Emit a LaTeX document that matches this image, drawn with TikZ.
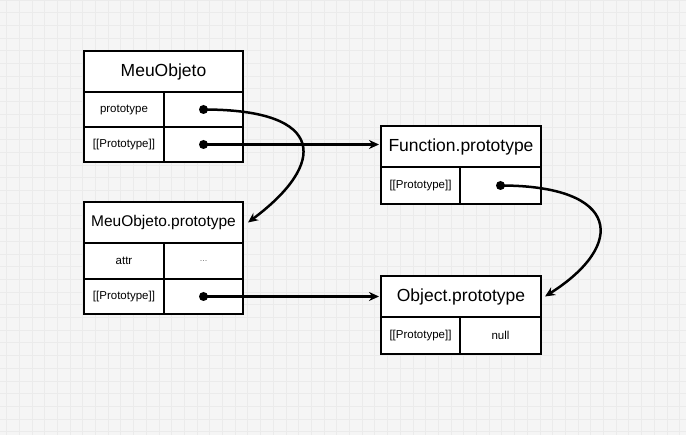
\documentclass[tikz,border=0pt]{standalone}
\usepackage{fontspec}
\setmainfont{Liberation Sans}
\usetikzlibrary{arrows.meta}

\begin{document}
\begin{tikzpicture}[x=1pt,y=-1pt]
			\tikzstyle{title}=[draw,fill=white,line width=2.5pt,rectangle,text centered,inner sep=0pt,outer sep=0pt,anchor=north west,minimum width=159pt,minimum height=41pt,font=\fontsize{17.5}{20}\selectfont]
			\tikzstyle{keycell}=[draw,fill=white,line width=2.5pt,rectangle,text centered,inner sep=0pt,outer sep=0pt,anchor=north west,minimum width=80pt,minimum height=35pt,font=\fontsize{11.5}{13}\selectfont]
			\tikzstyle{valcell}=[keycell,minimum width=79pt]
			\tikzstyle{ptr}=[line width=2.5pt,-{Stealth[length=10pt,width=9pt]}]
			\tikzstyle{dot}=[fill=black,radius=4.5pt]

			\useasboundingbox (0,0) rectangle (686,435);
			\fill[black!4] (0,0) rectangle (686,435);
			\foreach \gx in {6.5,19.2,...,686} \draw[black!8,line width=0.8pt] (\gx,0) -- (\gx,435);
			\foreach \gy in {0,12.7,...,435} \draw[black!8,line width=0.8pt] (0,\gy) -- (686,\gy);

			\node[title] (mo) at (84,51) {MeuObjeto};
			\node[keycell] (moproto) at (mo.south west) {prototype};
			\node[valcell] (moprotov) at (moproto.north east) {};
			\node[keycell] (mointern) at (moproto.south west) {[[Prototype]]};
			\node[valcell] (mointernv) at (mointern.north east) {};

			\node[title,font=\fontsize{15.5}{18}\selectfont] (mp) at (84,202) {MeuObjeto.prototype};
			\node[keycell,minimum height=36pt] (mpattr) at (mp.south west) {attr};
			\node[valcell,minimum height=36pt] (mpattrv) at (mpattr.north east) {\textcolor{black!55}{\fontsize{9}{10}\selectfont ...}};
			\node[keycell] (mpintern) at (mpattr.south west) {[[Prototype]]};
			\node[valcell] (mpinternv) at (mpintern.north east) {};

			\node[title,minimum width=160pt] (fp) at (381,126) {Function.prototype};
			\node[keycell,minimum width=79pt,minimum height=37pt] (fpintern) at (fp.south west) {[[Prototype]]};
			\node[valcell,minimum width=81pt,minimum height=37pt] (fpinternv) at (fpintern.north east) {};

			\node[title,minimum width=160pt] (op) at (381,276) {Object.prototype};
			\node[keycell,minimum width=79pt,minimum height=37pt] (opintern) at (op.south west) {[[Prototype]]};
			\node[valcell,minimum width=81pt,minimum height=37pt] (opinternv) at (opintern.north east) {null};

			\fill[dot] (moprotov.center) circle;
			\fill[dot] (mointernv.center) circle;
			\fill[dot] (mpinternv.center) circle;
			\fill[dot] (fpinternv.center) circle;

			\draw[ptr] (mointernv.center) -- ([xshift=-2pt]mointernv.center -| fp.west);
			\draw[ptr] (mpinternv.center) -- ([xshift=-2pt]mpinternv.center -| op.west);
			\draw[ptr] (moprotov.center) .. controls +(125,0) and +(78,-58) .. ([xshift=5pt]mp.east);
			\draw[ptr] (fpinternv.center) .. controls +(120,0) and +(82,-52) .. ([xshift=4pt]op.east);
		\end{tikzpicture}
\end{document}
